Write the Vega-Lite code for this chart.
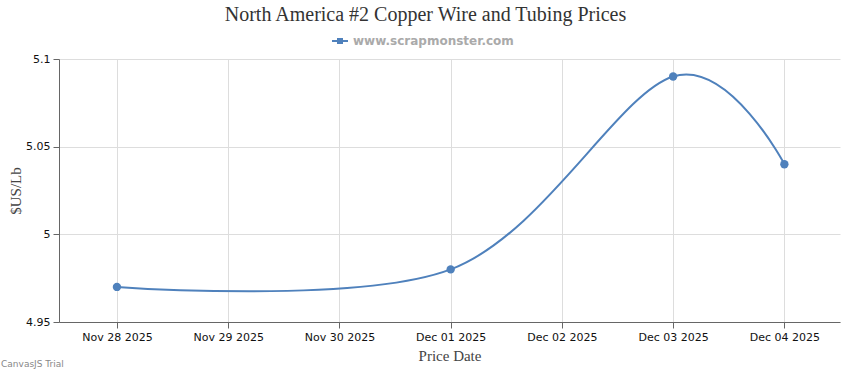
{
  "$schema": "https://vega.github.io/schema/vega-lite/v6.json",
  "width": 781,
  "height": 263,
  "autosize": {"type": "none"},
  "padding": {"left": 59, "top": 59, "right": 10, "bottom": 48},
  "background": "white",
  "title": {
    "text": "North America #2 Copper Wire and Tubing Prices",
    "font": "Liberation Serif",
    "fontSize": 20,
    "fontWeight": "normal",
    "color": "#333333",
    "anchor": "middle",
    "dx": -24,
    "dy": 19,
    "baseline": "alphabetic",
    "offset": 11
  },
  "config": {
    "view": {"stroke": null},
    "axis": {
      "labelFont": "DejaVu Sans",
      "labelFontSize": 11,
      "labelColor": "#111111",
      "titleFont": "Liberation Serif",
      "titleFontSize": 15,
      "titleFontWeight": "normal",
      "titleColor": "#444444",
      "gridColor": "#dddddd",
      "gridWidth": 1,
      "domainColor": "#666666",
      "tickColor": "#666666",
      "tickSize": 6,
      "labelPadding": 3
    }
  },
  "data": {
    "values": [
      {"date": "2025-11-28", "price": 4.97, "series": "www.scrapmonster.com"},
      {"date": "2025-12-01", "price": 4.98, "series": "www.scrapmonster.com"},
      {"date": "2025-12-03", "price": 5.09, "series": "www.scrapmonster.com"},
      {"date": "2025-12-04", "price": 5.04, "series": "www.scrapmonster.com"}
    ]
  },
  "layer": [
    {
      "mark": {"type": "line", "interpolate": "cardinal", "strokeWidth": 2},
      "encoding": {
        "x": {
          "field": "date",
          "type": "temporal",
          "title": "Price Date",
          "scale": {
            "type": "utc",
            "domain": [
              {"year": 2025, "month": 11, "date": 27, "hours": 11, "minutes": 30, "utc": true},
              {"year": 2025, "month": 12, "date": 4, "hours": 12, "utc": true}
            ]
          },
          "axis": {
            "values": [
              {"year": 2025, "month": 11, "date": 28, "utc": true},
              {"year": 2025, "month": 11, "date": 29, "utc": true},
              {"year": 2025, "month": 11, "date": 30, "utc": true},
              {"year": 2025, "month": 12, "date": 1, "utc": true},
              {"year": 2025, "month": 12, "date": 2, "utc": true},
              {"year": 2025, "month": 12, "date": 3, "utc": true},
              {"year": 2025, "month": 12, "date": 4, "utc": true}
            ],
            "labelExpr": "utcFormat(datum.value, '%b %d %Y')",
            "grid": true,
            "labelFlush": false,
            "labelOverlap": false,
            "titlePadding": 6
          }
        },
        "y": {
          "field": "price",
          "type": "quantitative",
          "title": "$US/Lb",
          "scale": {"domain": [4.95, 5.1], "nice": false, "zero": false},
          "axis": {
            "values": [4.95, 5, 5.05, 5.1],
            "format": "~g",
            "grid": true,
            "titlePadding": 2
          }
        },
        "color": {
          "field": "series",
          "type": "nominal",
          "scale": {"range": ["#4F81BC"]},
          "legend": {
            "title": null,
            "orient": "none",
            "legendX": 273,
            "legendY": -26,
            "direction": "horizontal",
            "symbolType": "M-1,-0.125H1V0.125H-1Z M-0.375,-0.375H0.375V0.375H-0.375Z",
            "symbolSize": 256,
            "symbolStrokeWidth": 0,
            "symbolFillColor": "#4F81BC",
            "labelFont": "DejaVu Sans",
            "labelFontSize": 12,
            "labelFontWeight": "bold",
            "labelColor": "#aaaaaa",
            "labelOffset": 5,
            "labelLimit": 400,
            "encode": {
              "symbols": {"update": {"fill": {"value": "#4F81BC"}, "stroke": {"value": "transparent"}}}
            }
          }
        }
      }
    },
    {
      "mark": {"type": "point", "filled": true, "size": 70, "opacity": 1},
      "encoding": {
        "x": {"field": "date", "type": "temporal"},
        "y": {"field": "price", "type": "quantitative"},
        "color": {"field": "series", "type": "nominal"}
      }
    },
    {
      "data": {"values": [{"note": "CanvasJS Trial"}]},
      "mark": {"type": "text", "align": "left", "baseline": "middle", "font": "DejaVu Sans", "fontSize": 9, "color": "#888888"},
      "encoding": {
        "text": {"field": "note"},
        "x": {"datum": {"year": 2025, "month": 11, "date": 26, "hours": 23, "utc": true}, "type": "temporal"},
        "y": {"datum": 4.926, "type": "quantitative"}
      }
    }
  ]
}
